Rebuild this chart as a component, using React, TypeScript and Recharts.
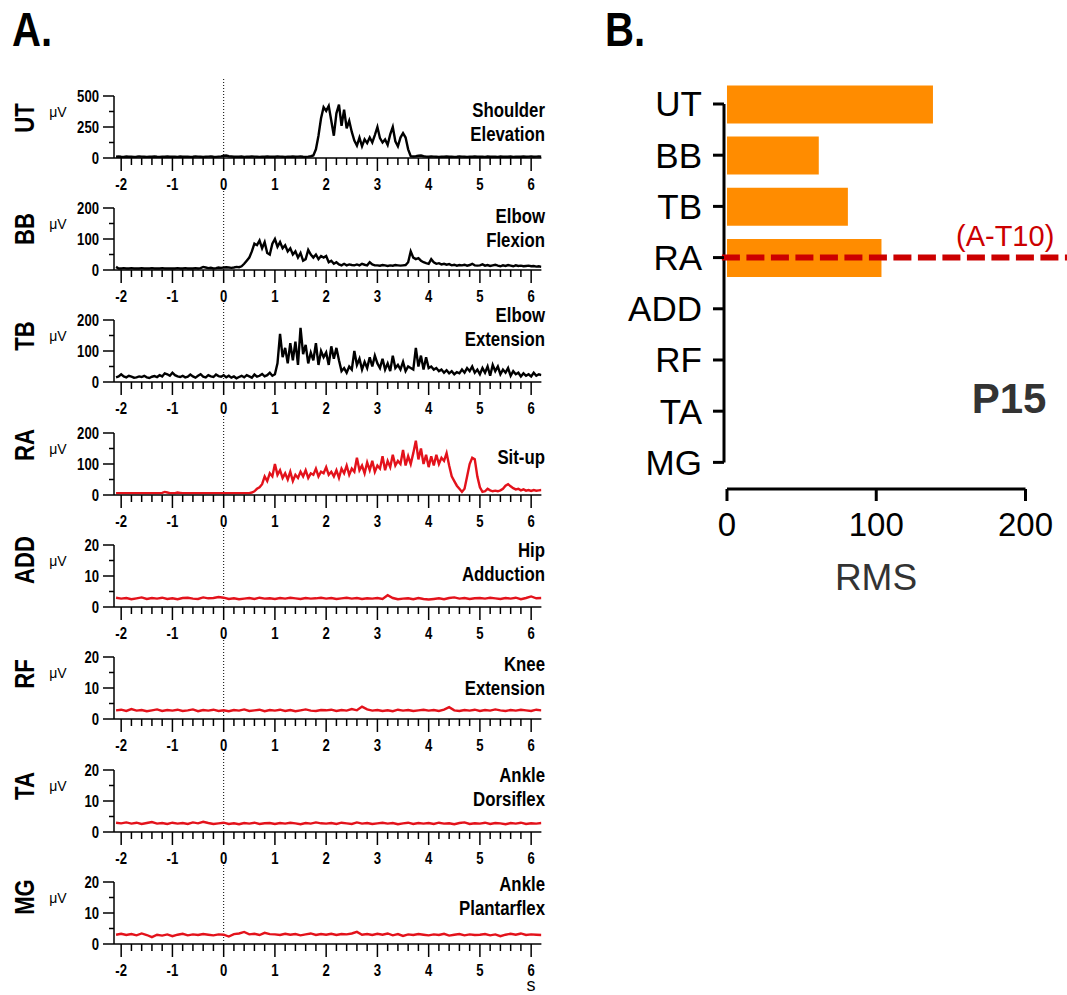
import React from 'react';
import { LineChart, Line, XAxis, YAxis, ReferenceLine, BarChart, Bar } from 'recharts';

// ---------------- Panel A data ----------------
const MUSCLES = ['UT', 'BB', 'TB', 'RA', 'ADD', 'RF', 'TA', 'MG'];
const MOVEMENTS = [
  ['Shoulder', 'Elevation'],
  ['Elbow', 'Flexion'],
  ['Elbow', 'Extension'],
  ['Sit-up'],
  ['Hip', 'Adduction'],
  ['Knee', 'Extension'],
  ['Ankle', 'Dorsiflex'],
  ['Ankle', 'Plantarflex'],
];
const Y_MAX = [500, 200, 200, 200, 20, 20, 20, 20];
const TRACE_COLORS = ['#000000', '#000000', '#000000', '#E3121B', '#E3121B', '#E3121B', '#E3121B', '#E3121B'];

const TIME_TICKS = [
  -2, -1.8, -1.6, -1.4, -1.2, -1, -0.8, -0.6, -0.4, -0.2,
  0, 0.2, 0.4, 0.6, 0.8, 1, 1.2, 1.4, 1.6, 1.8,
  2, 2.2, 2.4, 2.6, 2.8, 3, 3.2, 3.4, 3.6, 3.8,
  4, 4.2, 4.4, 4.6, 4.8, 5, 5.2, 5.4, 5.6, 5.8, 6,
];

// fine traces: samples every 0.05 s from -2.10 to 6.20 s (167 samples)
const UT_EMG = [
  10, 12,
  10, 9, 12, 10, 11, 9, 10, 13, 11, 10, 9, 11, 10, 12, 10, 9, 11, 10, 12, 10,
  10, 11, 9, 12, 10, 10, 11, 9, 10, 12, 11, 10, 9, 10, 11, 12, 10, 9, 11, 13,
  18, 20, 14, 12, 10, 11, 10, 12, 9, 11, 10, 12, 11, 10, 9, 11, 10, 12, 10, 11,
  10, 12, 11, 10, 9, 11, 10, 12, 10, 11, 12, 10, 9, 11, 14, 20, 70, 180, 320, 410,
  380, 420, 300, 180, 360, 430, 260, 390, 240, 300, 210, 140, 100, 165, 95, 150, 120, 165, 125, 185,
  250, 160, 125, 150, 105, 190, 250, 135, 95, 165, 200, 165, 70, 15, 12, 14, 18, 20, 14, 11,
  10, 12, 11, 10, 9, 11, 10, 12, 10, 11, 9, 10, 12, 11, 10, 9, 11, 10, 12, 10,
  11, 10, 9, 12, 10, 11, 10, 9, 12, 10, 11, 10, 12, 9, 10, 11, 10, 12, 10, 11,
  12, 10, 11, 13, 10,
];
const BB_EMG = [
  10, 5,
  5, 6, 5, 5, 6, 5, 5, 5, 6, 5, 5, 5, 6, 5, 5, 5, 6, 5, 5, 5,
  5, 5, 6, 5, 5, 6, 5, 5, 5, 6, 5, 6, 10, 8, 6, 7, 5, 6, 8, 7,
  8, 9, 8, 7, 8, 10, 9, 12, 20, 30, 40, 60, 85, 80, 95, 70, 90, 55, 50, 85,
  100, 75, 90, 70, 80, 60, 70, 50, 60, 40, 55, 30, 35, 65, 50, 40, 50, 35, 45, 40,
  45, 25, 30, 20, 25, 18, 15, 20, 15, 18, 16, 15, 18, 15, 20, 17, 15, 25, 18, 15,
  15, 14, 16, 15, 13, 15, 14, 16, 15, 14, 15, 16, 25, 60, 40, 35, 38, 30, 25, 22,
  20, 35, 25, 20, 22, 18, 20, 17, 19, 15, 17, 14, 16, 15, 17, 14, 16, 20, 15, 14,
  15, 18, 14, 16, 13, 15, 17, 14, 12, 15, 13, 16, 14, 12, 15, 13, 14, 12, 13, 14,
  12, 13, 11, 12, 10,
];
const TB_EMG = [
  15, 18,
  25, 18, 15, 20, 17, 14, 15, 18, 16, 20, 15, 13, 17, 19, 16, 22, 18, 28, 25, 20,
  30, 22, 18, 16, 20, 15, 17, 24, 18, 14, 20, 25, 17, 15, 22, 18, 16, 24, 19, 17,
  22, 15, 20, 14, 18, 12, 16, 20, 15, 22, 18, 14, 24, 17, 20, 26, 18, 22, 30, 20,
  25, 60, 155, 80, 110, 60, 125, 70, 130, 55, 175, 90, 120, 60, 95, 70, 125, 55, 100, 80,
  95, 55, 115, 75, 110, 70, 35, 45, 30, 50, 40, 100, 55, 75, 40, 65, 45, 80, 50, 85,
  60, 45, 75, 40, 60, 35, 85, 45, 55, 40, 65, 35, 50, 45, 40, 110, 50, 85, 40, 80,
  45, 50, 40, 45, 35, 40, 30, 38, 28, 35, 25, 32, 28, 40, 30, 45, 35, 50, 30, 40,
  25, 45, 30, 50, 20, 55, 35, 50, 25, 40, 30, 45, 20, 35, 25, 30, 18, 28, 20, 25,
  18, 30, 20, 25, 22,
];
const RA_EMG = [
  6, 6,
  6, 6, 6, 6, 6, 6, 6, 6, 6, 6, 6, 6, 6, 6, 6, 6, 7, 10, 8, 6,
  6, 6, 8, 7, 6, 6, 6, 6, 6, 6, 6, 6, 6, 6, 6, 6, 6, 6, 6, 6,
  6, 6, 6, 6, 6, 6, 6, 6, 6, 6, 6, 8, 12, 20, 25, 35, 60, 45, 70, 60,
  100, 65, 80, 55, 70, 50, 75, 45, 65, 55, 75, 60, 80, 55, 70, 65, 85, 60, 75, 70,
  90, 65, 75, 60, 80, 55, 85, 70, 95, 65, 85, 75, 120, 80, 95, 70, 105, 80, 110, 75,
  95, 85, 125, 80, 110, 90, 130, 95, 110, 100, 145, 95, 125, 100, 135, 175, 115, 150, 100, 130,
  90, 125, 95, 130, 100, 120, 110, 135, 95, 60, 45, 30, 20, 10, 20, 60, 100, 120, 115, 60,
  25, 10, 12, 20, 15, 12, 14, 12, 15, 20, 30, 35, 28, 22, 18, 20, 15, 18, 14, 16,
  13, 16, 14, 15, 16,
];

// coarse traces: samples every 0.1 s from -2.1 to 6.2 s (84 samples)
const ADD_EMG = [
  3.0,
  2.7, 2.9, 2.5, 2.8, 3.1, 2.6, 2.9, 2.7, 3.0, 2.6,
  2.8, 2.5, 2.9, 3.0, 2.7, 2.6, 3.1, 2.8, 2.9, 3.2,
  3.0, 2.6, 2.8, 2.5, 2.7, 2.9, 2.6, 3.0, 2.7, 2.8,
  2.6, 2.9, 2.7, 3.0, 2.8, 2.6, 2.9, 2.7, 2.8, 3.0,
  2.7, 2.9, 2.6, 2.8, 3.0, 2.7, 2.9, 2.6, 2.8, 2.7,
  2.9, 2.6, 3.8, 2.9, 2.5, 2.7, 2.8, 2.5, 2.9, 2.6,
  2.4, 2.6, 2.8, 2.5, 2.9, 3.1, 2.7, 2.9, 2.6, 2.8,
  2.9, 2.7, 3.0, 2.8, 2.6, 2.9, 2.7, 3.0, 2.5, 2.9,
  3.4, 2.8, 2.9,
];
const RF_EMG = [
  2.8,
  3.0, 2.6, 3.2, 2.7, 2.9, 2.5, 2.8, 3.1, 2.6, 2.9,
  2.7, 3.0, 2.6, 2.8, 3.1, 2.5, 2.9, 2.7, 3.0, 2.6,
  2.8, 2.5, 2.9, 2.7, 3.1, 2.6, 2.8, 3.0, 2.5, 2.9,
  2.7, 3.0, 2.6, 2.9, 2.5, 2.8, 3.1, 2.7, 2.6, 2.9,
  2.8, 3.0, 2.6, 2.9, 2.7, 3.2, 2.8, 4.0, 3.1, 2.7,
  2.9, 2.6, 2.8, 2.5, 3.0, 2.7, 2.9, 2.6, 2.8, 3.0,
  2.7, 2.9, 2.6, 3.0, 3.8, 2.8, 2.6, 2.9, 2.7, 3.0,
  2.6, 2.9, 2.7, 3.1, 2.8, 2.6, 2.9, 2.7, 3.0, 2.8,
  2.6, 3.0, 2.8,
];
const TA_EMG = [
  3.0,
  2.8, 3.1, 2.7, 3.0, 2.6, 2.9, 3.2, 2.7, 2.9, 2.6,
  3.0, 2.7, 2.9, 2.6, 3.1, 2.8, 3.3, 2.9, 2.6, 2.8,
  3.0, 2.6, 2.8, 2.5, 2.9, 2.7, 3.0, 2.6, 2.8, 2.9,
  2.6, 2.9, 2.7, 3.0, 2.8, 2.5, 2.9, 2.7, 3.1, 2.8,
  2.7, 2.9, 2.6, 3.0, 2.8, 2.6, 3.1, 2.7, 2.9, 2.6,
  2.8, 3.0, 2.7, 2.9, 2.5, 2.8, 3.0, 2.6, 2.9, 2.7,
  2.9, 2.6, 3.0, 2.7, 2.8, 2.5, 2.9, 3.1, 2.6, 2.8,
  2.7, 3.0, 2.6, 2.9, 2.8, 2.5, 2.9, 2.7, 3.0, 2.6,
  2.8, 2.7, 2.9,
];
const MG_EMG = [
  3.0,
  3.3, 2.9, 3.2, 2.8, 3.4, 2.9, 2.2, 3.0, 2.7, 3.1,
  2.5, 3.0, 3.3, 2.8, 3.1, 2.9, 3.2, 3.0, 2.8, 3.1,
  3.0, 2.4, 3.2, 3.4, 3.9, 3.1, 3.3, 2.9, 3.6, 3.2,
  3.1, 2.9, 3.3, 3.0, 3.2, 2.8, 3.1, 3.4, 2.9, 3.2,
  3.0, 3.3, 2.9, 3.2, 3.1, 3.4, 3.9, 3.0, 3.2, 2.9,
  3.3, 3.0, 3.4, 2.8, 3.2, 2.6, 3.1, 2.9, 3.2, 3.0,
  2.8, 3.1, 2.9, 3.3, 2.7, 3.0, 3.2, 2.8, 3.1, 2.9,
  3.0, 3.2, 2.8, 3.1, 2.5, 3.0, 3.3, 3.0, 3.4, 2.9,
  3.1, 3.0, 2.9,
];

const TRACES = [UT_EMG, BB_EMG, TB_EMG, RA_EMG, ADD_EMG, RF_EMG, TA_EMG, MG_EMG];
const SAMPLE_STEP = [0.05, 0.05, 0.05, 0.05, 0.1, 0.1, 0.1, 0.1];
const TRACE_START = -2.1;

// ---------------- Panel B data ----------------
const RMS_MUSCLES = ['UT', 'BB', 'TB', 'RA', 'ADD', 'RF', 'TA', 'MG'];
const RMS_VALUES: (number | null)[] = [138, 61.5, 81, 103.5, null, null, null, null];
const RMS_TICKS = [0, 100, 200];
const RMS_ROW_TICKS = [0, 1, 2, 3, 4, 5, 6, 7];
const THRESHOLD_ROW = 3;
const THRESHOLD_LABEL = '(A-T10)';
const PARTICIPANT = 'P15';

// ---------------- layout ----------------
const FONT_SANS = "'Liberation Sans', Arial, sans-serif";
const NARROW = 0.82;
const ZERO_Y = [157.7, 270, 382.3, 494.6, 606.9, 719.2, 831.5, 943.8];
const PLOT_H = 62;
const LABEL_Y = [118, 229, 336, 445, 560, 674, 786, 897];
const TITLE_Y = [110, 216, 315, 457, 550, 664, 775, 884];

// bold condensed text (horizontally squeezed Liberation Sans Bold)
const NText = ({ x, y, size, anchor = 'start', rotate = 0, dy, children, weight = 700 }: any) => (
  <text
    x={0}
    y={0}
    dy={dy}
    textAnchor={anchor}
    transform={`translate(${x},${y}) rotate(${rotate}) scale(${NARROW},1)`}
    style={{ fontFamily: FONT_SANS, fontWeight: weight, fontSize: size }}
    fill="#000"
  >
    {children}
  </text>
);

const XTick = (props: any) => {
  const { x, y, payload } = props;
  const v = payload.value;
  const major = Math.abs(v - Math.round(v)) < 1e-6;
  return (
    <g>
      <line x1={x} x2={x} y1={y} y2={y + (major ? 13 : 7)} stroke="#000" strokeWidth={1.5} />
      {major && <NText x={x} y={y + 32} size={16} anchor="middle">{Math.round(v)}</NText>}
    </g>
  );
};

const YTick = (props: any) => {
  const { x, y, payload, majorStep } = props;
  const v = payload.value;
  const r = v / majorStep;
  const major = Math.abs(r - Math.round(r)) < 1e-6;
  return (
    <g>
      <line x1={x - (major ? 11 : 5)} x2={x} y1={y} y2={y} stroke="#000" strokeWidth={1.5} />
      {major && <NText x={x - 15} y={y} dy="0.36em" size={16} anchor="end">{v}</NText>}
    </g>
  );
};

function EmgPanel({ index }: { index: number }) {
  const values = TRACES[index];
  const step = SAMPLE_STEP[index];
  const data = values.map((v, i) => ({ t: Math.round((TRACE_START + i * step) * 1000) / 1000, v }));
  const max = Y_MAX[index];
  const yTicks = [0, max / 4, max / 2, (3 * max) / 4, max];
  const top = ZERO_Y[index] - PLOT_H - 20;
  return (
    <div style={{ position: 'absolute', left: 0, top, width: 560, height: 124 }}>
      <LineChart width={560} height={124} data={data} margin={{ top: 20, right: 18.6, bottom: 0, left: 0 }}>
        <XAxis type="number" dataKey="t" domain={[-2.14, 6.2]} allowDataOverflow ticks={TIME_TICKS}
          interval={0} tickSize={0} tickMargin={0} tickLine={false}
          axisLine={{ stroke: '#000', strokeWidth: 1.5 }} tick={<XTick />} height={42} />
        <YAxis type="number" domain={[0, max]} ticks={yTicks} interval={0} tickSize={0} tickMargin={0}
          tickLine={false} axisLine={{ stroke: '#000', strokeWidth: 1.5 }}
          tick={<YTick majorStep={max / 2} />} width={114} />
        <ReferenceLine segment={[{ x: 0, y: 0 }, { x: 0, y: max * 1.3 }]} ifOverflow="visible"
          stroke="#000" strokeWidth={1} strokeDasharray="1 2" />
        <Line type="linear" dataKey="v" stroke={TRACE_COLORS[index]} strokeWidth={2.4} dot={false}
          isAnimationActive={false} />
      </LineChart>
    </div>
  );
}

function RmsPanel() {
  const data = RMS_MUSCLES.map((m, i) => ({ idx: i, name: m, rms: RMS_VALUES[i] }));
  return (
    <div style={{ position: 'absolute', left: 600, top: 0, width: 467, height: 600 }}>
      <BarChart layout="vertical" width={467} height={600} data={data}
        margin={{ top: 78.4, right: 0, bottom: 51, left: 0 }}>
        <XAxis type="number" domain={[-2, 227.8]} allowDataOverflow ticks={RMS_TICKS} interval={0}
          axisLine={false} tickSize={12} tickMargin={12} tickLine={{ stroke: '#000', strokeWidth: 3 }}
          tick={{ fill: '#000', fontSize: 33, fontFamily: FONT_SANS }} height={60} />
        <YAxis type="number" dataKey="idx" domain={[-0.5, 7.52]} allowDataOverflow
          ticks={RMS_ROW_TICKS} interval={0} tickFormatter={(v: number) => RMS_MUSCLES[v]}
          axisLine={false} tickSize={11} tickMargin={11} tickLine={{ stroke: '#000', strokeWidth: 3 }}
          tick={{ fill: '#000', fontSize: 35, fontFamily: FONT_SANS }} width={124} />
        <Bar dataKey="rms" fill="#FF8C00" barSize={38} isAnimationActive={false} />
        <ReferenceLine segment={[{ x: -2, y: 0 }, { x: -2, y: 7 }]} stroke="#000" strokeWidth={3} ifOverflow="visible" />
        <ReferenceLine segment={[{ x: 0, y: 7.52 }, { x: 200, y: 7.52 }]} stroke="#000" strokeWidth={3} ifOverflow="visible" />
        <ReferenceLine segment={[{ x: -3.4, y: THRESHOLD_ROW }, { x: 227.8, y: THRESHOLD_ROW }]}
          stroke="#CC0000" strokeWidth={6} strokeDasharray="18 6.5" ifOverflow="visible" />
      </BarChart>
    </div>
  );
}

export default function App() {
  return (
    <div style={{ position: 'absolute', left: 0, top: 0, width: 1067, height: 995, background: '#fff', overflow: 'hidden' }}>
      {MUSCLES.map((m, i) => <EmgPanel key={m} index={i} />)}
      <RmsPanel />
      <svg width={1067} height={995} style={{ position: 'absolute', left: 0, top: 0, pointerEvents: 'none' }}>
        <NText x={12} y={46} size={49}>A.</NText>
        <NText x={605} y={46} size={49}>B.</NText>
        {MUSCLES.map((m, i) => (
          <g key={m}>
            <NText x={24} y={LABEL_Y[i]} dy="0.36em" size={27} anchor="middle" rotate={-90}>{m}</NText>
            <text x={58} y={ZERO_Y[i] - 46} dy="0.36em" textAnchor="middle"
              style={{ fontFamily: FONT_SANS, fontSize: 14 }} fill="#000">μV</text>
            {MOVEMENTS[i].map((line, j) => (
              <NText key={j} x={545} y={TITLE_Y[i] + j * 24} dy="0.36em" size={20.5} anchor="end">{line}</NText>
            ))}
          </g>
        ))}
        <text x={531} y={991} textAnchor="middle" style={{ fontFamily: FONT_SANS, fontSize: 18 }} fill="#000">s</text>
        <text x={956} y={246} style={{ fontFamily: FONT_SANS, fontSize: 29 }} fill="#CC0000">{THRESHOLD_LABEL}</text>
        <text x={876} y={590} textAnchor="middle" style={{ fontFamily: FONT_SANS, fontSize: 37 }} fill="#333">RMS</text>
        <text x={1009} y={413} textAnchor="middle" style={{ fontFamily: FONT_SANS, fontWeight: 700, fontSize: 42 }} fill="#333">{PARTICIPANT}</text>
      </svg>
    </div>
  );
}
